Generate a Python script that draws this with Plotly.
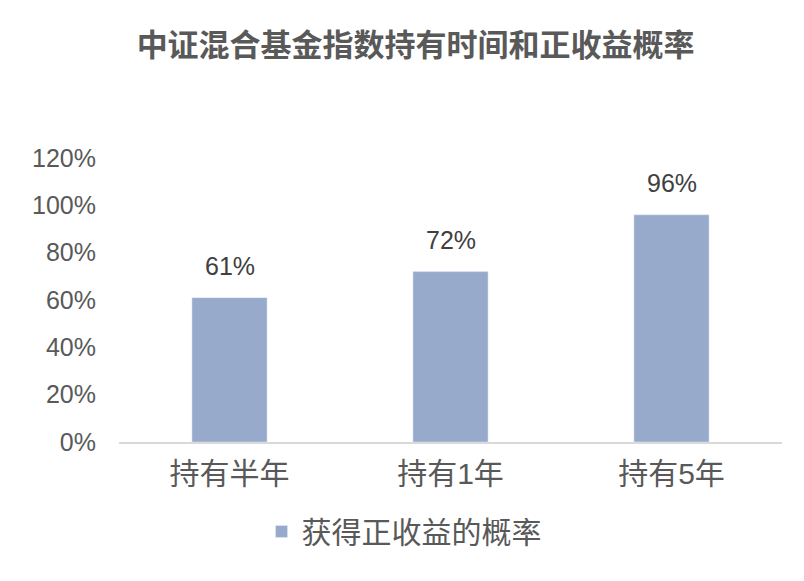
import plotly.graph_objects as go

categories = ["持有半年", "持有1年", "持有5年"]
probability = [0.61, 0.72, 0.96]
series_name = "获得正收益的概率"
tick_vals = [0, 0.2, 0.4, 0.6, 0.8, 1.0, 1.2]
tick_text = ["0%", "20%", "40%", "60%", "80%", "100%", "120%"]

font_family = "Liberation Sans, Noto Sans CJK SC"

fig = go.Figure()
fig.add_trace(go.Bar(
    x=categories, y=probability, name=series_name,
    marker=dict(color="#97aacb"),
    width=0.34,
    showlegend=True,
))

# value labels above bars
for c, v in zip(categories, probability):
    fig.add_annotation(x=c, y=v, text=f"{round(v * 100)}%", showarrow=False,
                       yanchor="bottom", yshift=16,
                       font=dict(size=25, color="#404040"))

# page body adds an 8px offset, so margins are shifted to compensate
fig.update_layout(
    width=804, height=581,
    paper_bgcolor="white", plot_bgcolor="white",
    font=dict(family=font_family, color="#595959"),
    title=dict(text="<b>中证混合基金指数持有时间和正收益概率</b>",
               x=0.507, xanchor="center", y=0.936, yanchor="middle",
               font=dict(size=31, color="#595959", family="Noto Sans CJK SC")),
    margin=dict(l=111, r=30, t=150, b=147, autoexpand=False),
    xaxis=dict(showline=True, linecolor="#d9d9d9", linewidth=2,
               tickfont=dict(size=30, color="#595959"), ticks="",
               showgrid=False, ticklabelstandoff=4),
    yaxis=dict(range=[0, 1.2], tickvals=tick_vals, ticktext=tick_text,
               showgrid=False, zeroline=False, showline=False,
               tickfont=dict(size=25, color="#595959"), ticks="",
               ticklabelstandoff=22),
    legend=dict(orientation="h", x=0.215, xanchor="left", y=-0.315,
                yanchor="middle", font=dict(size=30, color="#595959"),
                itemwidth=30),
)

fig.write_html("out.html")
